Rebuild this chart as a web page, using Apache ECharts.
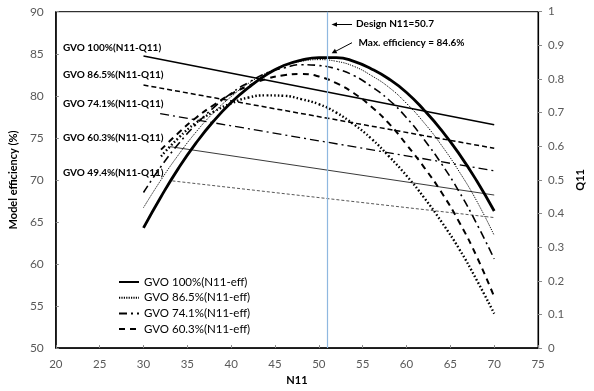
<!DOCTYPE html>
<html>
<head>
<meta charset="utf-8">
<script src="https://cdn.jsdelivr.net/npm/echarts@6/dist/echarts.min.js"></script>
<style>
  html, body { margin: 0; padding: 0; background: #fff; }
  #c { width: 594px; height: 391px; }
</style>
</head>
<body>
<div id="c"></div>
<script>
// ---------- data ----------
const N11 = [30, 32, 34, 36, 38, 40, 42, 44, 46, 48, 50, 52, 54, 56, 58, 60, 62, 64, 66, 68, 70];
const eff100 = [64.3, 68.0, 71.4, 74.4, 77.0, 79.2, 81.0, 82.5, 83.6, 84.25, 84.55, 84.55, 84.1, 83.2, 82.0, 80.4, 78.3, 75.9, 73.1, 69.9, 66.3];
const eff865 = [66.7, 70.0, 73.0, 75.7, 78.0, 79.9, 81.5, 82.7, 83.6, 84.1, 84.3, 84.1, 83.5, 82.4, 81.0, 79.1, 76.8, 74.1, 71.0, 67.5, 63.4];
const eff741 = [68.5, 71.6, 74.3, 76.6, 78.6, 80.3, 81.6, 82.7, 83.3, 83.7, 83.6, 83.2, 82.4, 81.1, 79.5, 77.4, 74.8, 71.9, 68.6, 64.8, 60.6];
const N11b = [32, 34, 36, 38, 40, 42, 44, 46, 48, 50, 52, 54, 56, 58, 60, 62, 64, 66, 68, 70];
const eff603 = [73.6, 75.6, 77.4, 78.9, 80.2, 81.2, 82.0, 82.45, 82.6, 82.3, 81.5, 80.3, 78.7, 76.7, 74.2, 71.5, 68.5, 65.0, 60.9, 56.1];
const eff494 = [72.8, 75.0, 76.8, 78.1, 79.1, 79.8, 80.05, 80.0, 79.6, 79.0, 78.0, 76.6, 74.9, 72.8, 70.5, 67.9, 65.0, 61.8, 58.1, 54.1];

const q100N11 = [30, 70];   const q100 = [0.868, 0.664];
const q865N11 = [30, 70];   const q865 = [0.782, 0.594];
const q741N11 = [31.9, 70]; const q741 = [0.697, 0.527];
const q603N11 = [33.0, 70]; const q603 = [0.599, 0.455];
const q494N11 = [33.3, 70]; const q494 = [0.497, 0.388];

const designN11 = 51.0;
const xTicks = { min: 20, max: 75, interval: 5 };
const yTicks = { min: 50, max: 90, interval: 5 };
const qTicks = { min: 0, max: 1, interval: 0.1 };

const effNames = ['GVO 100%(N11-eff)', 'GVO 86.5%(N11-eff)', 'GVO 74.1%(N11-eff)', 'GVO 60.3%(N11-eff)', 'GVO 49.4%(N11-eff)'];
const qNames = ['GVO 100%(N11-Q11)', 'GVO 86.5%(N11-Q11)', 'GVO 74.1%(N11-Q11)', 'GVO 60.3%(N11-Q11)', 'GVO 49.4%(N11-Q11)'];

// ---------- helpers ----------
const pairs = (xs, ys) => xs.map((x, i) => [x, ys[i]]);
const FONT = 'Lato, "Liberation Sans", sans-serif';

function effSeries(name, xs, ys, ls) {
  return { name, type: 'line', yAxisIndex: 0, data: pairs(xs, ys), smooth: true, showSymbol: false,
           symbol: 'none', itemStyle: { color: '#000' }, lineStyle: ls, z: 3 };
}
function qSeries(name, xs, ys, ls) {
  return { name, type: 'line', yAxisIndex: 1, data: pairs(xs, ys), smooth: false, showSymbol: false,
           symbol: 'none', itemStyle: { color: '#000' }, lineStyle: ls, z: 2 };
}

const chart = echarts.init(document.getElementById('c'));

const series = [
  effSeries(effNames[0], N11, eff100, { color: '#000', width: 2.8, type: 'solid' }),
  effSeries(effNames[1], N11, eff865, { color: '#000', width: 1, type: [1.2, 1.2] }),
  effSeries(effNames[2], N11, eff741, { color: '#000', width: 1.6, type: [8, 4, 2, 4] }),
  effSeries(effNames[3], N11b, eff603, { color: '#000', width: 2, type: [6, 5] }),
  effSeries(effNames[4], N11b, eff494, { color: '#000', width: 2.4, type: [1.6, 2.2] }),
  qSeries(qNames[0], q100N11, q100, { color: '#000', width: 1.5, type: 'solid' }),
  qSeries(qNames[1], q865N11, q865, { color: '#000', width: 1.5, type: [5, 3] }),
  qSeries(qNames[2], q741N11, q741, { color: '#000', width: 1.3, type: [9, 4, 2, 4] }),
  qSeries(qNames[3], q603N11, q603, { color: '#222', width: 0.9, type: 'solid' }),
  qSeries(qNames[4], q494N11, q494, { color: '#444', width: 0.9, type: [3, 2] })
];

// design line
series.push({
  name: 'design', type: 'line', data: [], yAxisIndex: 0,
  markLine: { silent: true, symbol: 'none', label: { show: false },
    lineStyle: { color: '#8FB8E0', width: 1.2, type: 'solid' },
    data: [{ xAxis: designN11 }] },
  z: 1
});

const qLabelY = [48.3, 76, 105, 138.3, 174];
const graphics = qNames.map((n, i) => ({
  type: 'text', left: 63, top: qLabelY[i] - 6,
  style: { text: n, fill: '#000', font: 'bold 10px ' + FONT }
}));
graphics.push(
  { type: 'line', shape: { x1: 352, y1: 24.5, x2: 335, y2: 24.5 }, style: { stroke: '#000', lineWidth: 1 } },
  { type: 'polygon', shape: { points: [[331.5, 24.5], [337, 22.3], [337, 26.7]] }, style: { fill: '#000' } },
  { type: 'text', left: 356, top: 19, style: { text: 'Design N11=50.7', fill: '#000', font: 'bold 10px ' + FONT } },
  { type: 'line', shape: { x1: 352, y1: 42.7, x2: 335, y2: 51.6 }, style: { stroke: '#000', lineWidth: 1 } },
  { type: 'polygon', shape: { points: [[331.7, 53.3], [337.3, 53.2], [334.9, 48.7]] }, style: { fill: '#000' } },
  { type: 'text', left: 358.5, top: 37.5, style: { text: 'Max. efficiency = 84.6%', fill: '#000', font: 'bold 10px ' + FONT } }
);

chart.setOption({
  animation: false,
  textStyle: { fontFamily: FONT },
  grid: { left: 55.7, right: 54.7, top: 11.7, bottom: 38.7, show: true, borderColor: '#000', borderWidth: 1, containLabel: false },
  legend: {
    orient: 'vertical', left: 113, top: 271, itemWidth: 20, itemHeight: 12, itemGap: 3.7,
    data: effNames.slice(0, 4),
    itemStyle: { opacity: 0 },
    textStyle: { fontSize: 11.5, color: '#000', fontFamily: FONT }
  },
  xAxis: {
    type: 'value', min: xTicks.min, max: xTicks.max, interval: xTicks.interval,
    name: 'N11', nameLocation: 'middle', nameGap: 26,
    nameTextStyle: { fontWeight: 'bold', color: '#000', fontSize: 11, fontFamily: FONT },
    axisLine: { show: true, onZero: false, lineStyle: { color: '#000', width: 1.5 } },
    axisTick: { show: true, inside: true, length: 3, lineStyle: { color: '#888' } },
    axisLabel: { color: '#595959', fontSize: 11.5, margin: 10, fontFamily: FONT },
    splitLine: { show: false }
  },
  yAxis: [
    {
      type: 'value', position: 'left', min: yTicks.min, max: yTicks.max, interval: yTicks.interval,
      name: 'Model efficiency (%)', nameLocation: 'middle', nameGap: 33, nameRotate: 90,
      nameTextStyle: { fontWeight: 'bold', color: '#000', fontSize: 11, fontFamily: FONT },
      axisLine: { show: true, onZero: false, lineStyle: { color: '#000', width: 1.5 } },
      axisTick: { show: true, inside: true, length: 3, lineStyle: { color: '#888' } },
      axisLabel: { color: '#595959', fontSize: 12, margin: 12, fontFamily: FONT },
      splitLine: { show: false }
    },
    {
      type: 'value', position: 'right', min: qTicks.min, max: qTicks.max, interval: qTicks.interval,
      name: 'Q11', nameLocation: 'middle', nameGap: 33, nameRotate: 90,
      nameTextStyle: { fontWeight: 'bold', color: '#000', fontSize: 11, fontFamily: FONT },
      axisLine: { show: true, onZero: false, lineStyle: { color: '#000', width: 1.2 } },
      axisTick: { show: true, inside: false, length: 4, lineStyle: { color: '#888' } },
      axisLabel: { color: '#595959', fontSize: 11.5, margin: 10, fontFamily: FONT },
      splitLine: { show: false }
    }
  ],
  series,
  graphic: graphics
});
</script>
</body>
</html>
